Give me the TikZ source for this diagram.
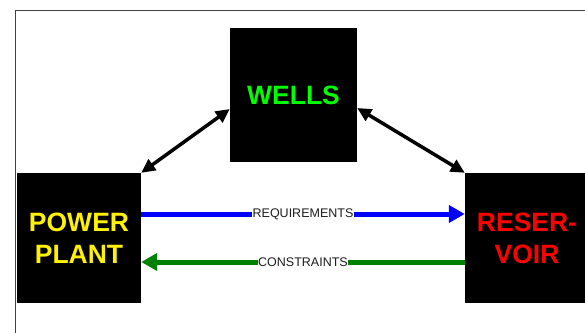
\documentclass[tikz,border=0pt]{standalone}
\usepackage{fontspec}
\setmainfont{Liberation Sans}
\usetikzlibrary{arrows.meta}
\definecolor{wellgreen}{RGB}{0,255,0}
\definecolor{flowgreen}{RGB}{0,128,0}
\definecolor{labelgray}{RGB}{30,30,30}
\tikzset{
  block/.style={fill=black, minimum width=124pt, minimum height=130pt,
    inner sep=0pt, align=center, font=\fontsize{26.5}{32}\selectfont\bfseries},
  link/.style={line width=3.5pt, {Triangle[length=14pt,width=13pt]}-{Triangle[length=14pt,width=13pt]}},
  flow/.style={line width=5pt, -{Triangle[length=16pt,width=17pt]}},
  flowlabel/.style={fill=white, inner sep=0.5pt, text=labelgray,
    font=\fontsize{12.5}{14}\selectfont}
}
\begin{document}
\begin{tikzpicture}[x=1pt,y=-1pt]
  \useasboundingbox (0,0) rectangle (585,332);
  \clip (0,0) rectangle (585,332);
  % outer frame
  \draw[line width=1pt, draw=black!75] (15,10) rectangle (640,360);
  % blocks
  \node[block, minimum width=127pt, minimum height=134pt, text=wellgreen] (wells) at (293.5,95) {WELLS};
  \node[block, text=yellow] (power) at (79,238) {POWER\\PLANT};
  \node[block, text=red] (res) at (527,238) {RESER-\\VOIR};
  % two-way links to the wells
  \draw[link] (power.north east) -- ([yshift=-14pt]wells.west);
  \draw[link] ([yshift=-13pt]wells.east) -- (res.north west);
  % flows between plant and reservoir
  \draw[flow, blue] ([yshift=24pt]power.east) -- node[flowlabel] {REQUIREMENTS} ([yshift=24pt]res.west);
  \draw[flow, flowgreen] ([yshift=-24pt]res.west) -- node[flowlabel] {CONSTRAINTS} ([yshift=-24pt]power.east);
\end{tikzpicture}
\end{document}
